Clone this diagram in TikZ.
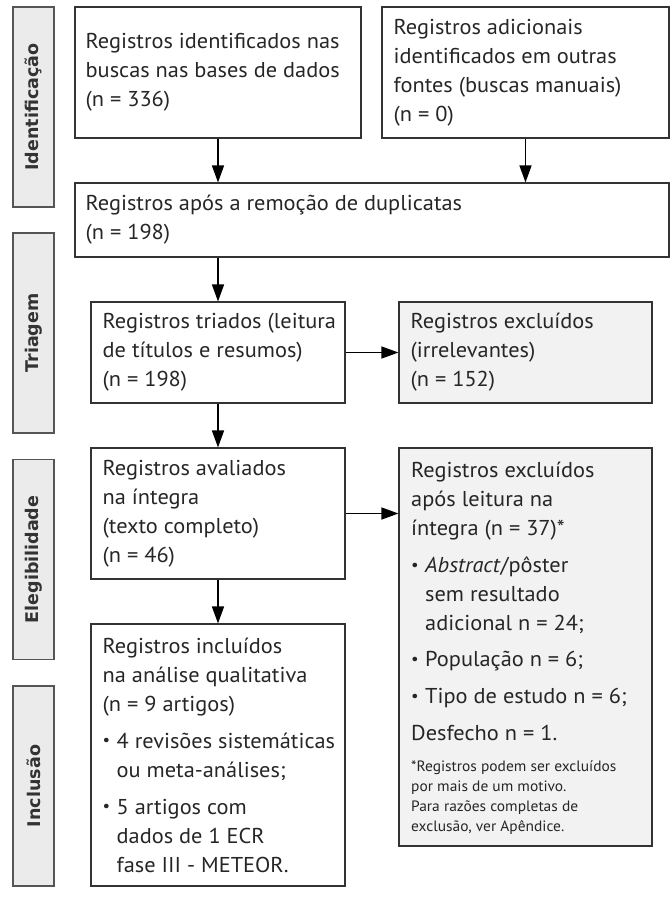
\documentclass[tikz,border=0pt]{standalone}
\usepackage{fontspec}
\usepackage{graphicx}
\setmainfont{PT Sans}[FakeStretch=1.04]
\newfontfamily\footfont{PT Sans}[FakeStretch=1.03]
\newfontfamily\labelfont{DejaVu Sans}
\usetikzlibrary{arrows.meta}
\definecolor{txtc}{HTML}{262626}
\definecolor{edgec}{HTML}{333333}
\definecolor{grayfill}{HTML}{F2F2F2}
\definecolor{sidefill}{HTML}{EBEBEB}
\definecolor{sideedge}{HTML}{555555}
\definecolor{labelc}{HTML}{333333}
\newcommand{\bulitem}{\makebox[14pt][l]{\raisebox{0.12em}{\scalebox{0.75}{\textbullet}}}}
\newcommand{\indt}{\hspace*{14pt}}
\tikzset{
  box/.style={draw=edgec, line width=1.1pt, inner sep=0pt, rectangle},
  exbox/.style={box, fill=grayfill},
  side/.style={draw=sideedge, fill=sidefill, line width=1.4pt, rotate=90,
    minimum width=200pt, minimum height=41pt, inner sep=0pt,
    font=\labelfont\bfseries\fontsize{17.5}{20}\selectfont, text=labelc},
  txt/.style={anchor=west, align=left, inner sep=0pt,
    font=\fontsize{21.5}{29}\selectfont, text=txtc},
  foot/.style={anchor=west, align=left, inner sep=0pt,
    font=\footfont\fontsize{15}{19.8}\selectfont, text=txtc},
  arr/.style={draw=black, line width=1.4pt, -{Triangle[length=17pt,width=12pt]}},
}
\begin{document}
\begin{tikzpicture}[x=1pt,y=-1pt]
\useasboundingbox (0,0) rectangle (671,900);

% side labels
\node[side] (s1) at (33.5,107) {Identificação};
\node[side] (s2) at (33.5,333) {Triagem};
\node[side] (s3) at (33.5,559.5) {Elegibilidade};
\node[side] (s4) at (33.5,786) {Inclusão};

% boxes
\node[box, minimum width=286pt, minimum height=131pt] (b1) at (218,72.5) {};
\node[box, minimum width=287pt, minimum height=131pt] (b2) at (525.5,72.5) {};
\node[box, minimum width=594pt, minimum height=74pt] (b3) at (372,220) {};
\node[box, minimum width=254pt, minimum height=101pt] (b4) at (218,352.5) {};
\node[exbox, minimum width=253pt, minimum height=101pt] (b5) at (525.5,352.5) {};
\node[box, minimum width=254pt, minimum height=131pt] (b6) at (218,513.5) {};
\node[exbox, minimum width=253pt, minimum height=398pt] (b7) at (525.5,647) {};
\node[box, minimum width=254pt, minimum height=262pt] (b8) at (218,755) {};

% texts
\node[txt] (t1) at ([xshift=11pt]b1.west) {Registros identificados nas\\buscas nas bases de dados\\(n = 336)};
\node[txt] (t2) at ([xshift=12pt]b2.west) {Registros adicionais\\identificados em outras\\fontes (buscas manuais)\\(n = 0)};
\node[txt] (t3) at ([xshift=11pt]b3.west) {Registros após a remoção de duplicatas\\(n = 198)};
\node[txt] (t4) at ([xshift=12pt]b4.west) {Registros triados (leitura\\de títulos e resumos)\\(n = 198)};
\node[txt] (t5) at ([xshift=12pt]b5.west) {Registros excluídos\\(irrelevantes)\\(n = 152)};
\node[txt] (t6) at ([xshift=12pt]b6.west) {Registros avaliados\\na íntegra\\(texto completo)\\(n = 46)};
\coordinate (c7) at (411,601.5);
\node[txt] (t7) at (c7) {Registros excluídos\\após leitura na\\íntegra (n = 37)*\\[8pt]\bulitem \textit{Abstract}/pôster\\\indt sem resultado\\\indt adicional n = 24;\\[7pt]\bulitem População n = 6;\\[8pt]\bulitem Tipo de estudo n = 6;\\[8pt]Desfecho n = 1.};
\coordinate (c7f) at (411,797.5);
\node[foot] (t7f) at (c7f) {*Registros podem ser excluídos\\por mais de um motivo.\\Para razões completas de\\exclusão, ver Apêndice.};
\node[txt] (t8) at ([xshift=12pt]b8.west) {Registros incluídos\\na análise qualitativa\\(n = 9 artigos)\\[8pt]\bulitem 4 revisões sistemáticas\\\indt ou meta-análises;\\[8pt]\bulitem 5 artigos com\\\indt dados de 1 ECR\\\indt fase III - METEOR.};

% arrows
\draw[arr] (b1.south) -- (b1.south |- b3.north);
\draw[arr] (b2.south) -- (b2.south |- b3.north);
\draw[arr] (b4.north |- b3.south) -- (b4.north);
\draw[arr] (b4.east) -- (b5.west);
\draw[arr] (b4.south) -- (b6.north);
\draw[arr] (b6.east) -- (b6.east -| b7.west);
\draw[arr] (b6.south) -- (b8.north);
\end{tikzpicture}
\end{document}
